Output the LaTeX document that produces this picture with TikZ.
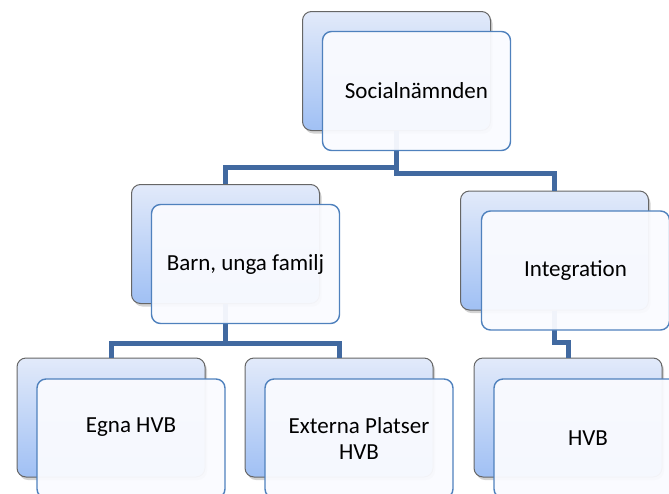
\documentclass[tikz,border=0pt]{standalone}
\usepackage{fontspec}
\setmainfont{Carlito}
\usetikzlibrary{shadows}
\definecolor{boxtop}{RGB}{226,234,250}
\definecolor{boxbot}{RGB}{160,192,244}
\definecolor{frameblue}{RGB}{79,129,189}
\definecolor{connblue}{RGB}{65,105,160}
\definecolor{frontfill}{RGB}{250,251,255}
\begin{document}
\begin{tikzpicture}[x=1pt,y=-1pt,
    back/.style={draw=black!60, line width=1pt, rounded corners=9pt, minimum width=188pt, minimum height=119pt, inner sep=0pt, top color=boxtop, bottom color=boxbot, drop shadow={shadow xshift=2pt, shadow yshift=-3pt, opacity=0.35}},
    front/.style={draw=frameblue, line width=1.4pt, rounded corners=9pt, minimum width=188pt, minimum height=119pt, inner sep=0pt, fill=frontfill, fill opacity=0.95, text opacity=1, align=center, font=\fontsize{23}{26}\selectfont},
    conn/.style={draw=connblue, line width=5pt}]
    \useasboundingbox (0,0) rectangle (669,493);

    % back boxes
    \node[back] (socb) at (396.5,71) {};
    \node[back] (barnb) at (225.5,244) {};
    \node[back] (intb) at (554.5,250.5) {};
    \node[back] (egnab) at (111,417.5) {};
    \node[back] (extb) at (339,417.5) {};
    \node[back] (hvbb) at (568,417.5) {};

    % connectors
    \draw[conn] (socb.south) -- ++(0,36.5) -| (barnb.north);
    \draw[conn] (socb.south) -- ++(0,42.5) -| (intb.north);
    \draw[conn] (barnb.south) -- ++(0,39.5) -| (egnab.north);
    \draw[conn] (barnb.south) -- ++(0,39.5) -| (extb.north);
    \draw[conn] (intb.south) -- ++(0,32) -| (hvbb.north);

    % front boxes
    \node[front] (soc) at ([shift={(20pt,-20pt)}]socb.center) {Socialnämnden};
    \node[front] (barn) at ([shift={(20pt,-20pt)}]barnb.center) {Barn, unga familj};
    \node[front] (int) at ([shift={(21pt,-20pt)}]intb.center) {Integration};
    \node[front] (egna) at ([shift={(20pt,-21pt)}]egnab.center) {Egna HVB\\ \mbox{}};
    \node[front] (ext) at ([shift={(20pt,-21pt)}]extb.center) {Externa Platser\\HVB};
    \node[front] (hvb) at ([shift={(20pt,-21pt)}]hvbb.center) {HVB};
\end{tikzpicture}
\end{document}
